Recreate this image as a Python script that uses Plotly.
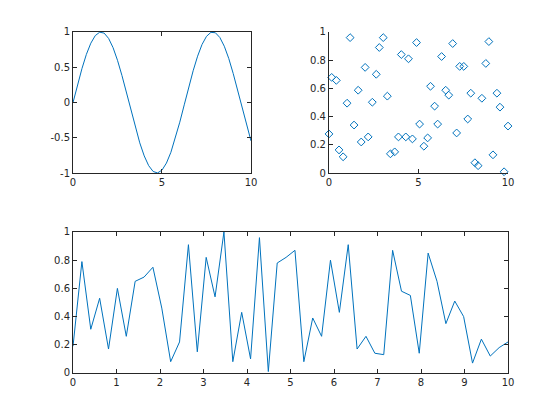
import plotly.graph_objects as go

# --- top-left: sine curve ---
sine_x = [i * 0.25 for i in range(41)]
sine_y = [0.00, 0.247, 0.479, 0.682, 0.841, 0.949, 0.997, 0.984, 0.909, 0.778,
          0.598, 0.382, 0.141, -0.108, -0.351, -0.572, -0.757, -0.895, -0.978, -0.999,
          -0.959, -0.859, -0.706, -0.508, -0.279, -0.033, 0.215, 0.450, 0.657, 0.823,
          0.938, 0.995, 0.989, 0.922, 0.798, 0.625, 0.412, 0.174, -0.075, -0.320, -0.544]
sine_yticks = [-1, -0.5, 0, 0.5, 1]
sine_yticklabels = ["-1", "-0.5", "0", "0.5", "1"]

# --- top-right: scatter ---
scat_x = [0.00, 0.15, 0.41, 0.56, 0.79, 1.01, 1.18, 1.40, 1.63, 1.80,
          2.02, 2.19, 2.42, 2.64, 2.81, 3.03, 3.26, 3.43, 3.67, 3.88,
          4.04, 4.29, 4.44, 4.66, 4.89, 5.06, 5.30, 5.51, 5.67, 5.90,
          6.07, 6.29, 6.52, 6.69, 6.91, 7.13, 7.30, 7.53, 7.75, 7.92,
          8.15, 8.33, 8.54, 8.76, 8.93, 9.16, 9.38, 9.55, 9.78, 10.00]
scat_y = [0.277, 0.678, 0.657, 0.164, 0.115, 0.495, 0.960, 0.340, 0.587, 0.220,
          0.749, 0.256, 0.502, 0.700, 0.890, 0.960, 0.545, 0.136, 0.150, 0.256,
          0.840, 0.256, 0.810, 0.242, 0.925, 0.347, 0.190, 0.249, 0.615, 0.474,
          0.347, 0.826, 0.587, 0.552, 0.918, 0.284, 0.756, 0.756, 0.383, 0.566,
          0.073, 0.052, 0.530, 0.777, 0.932, 0.129, 0.566, 0.467, 0.009, 0.333]

# --- bottom: random line ---
line_x = [i * 10 / 49 for i in range(50)]
line_y = [0.19, 0.79, 0.31, 0.53, 0.17, 0.60, 0.26, 0.65, 0.68, 0.75,
          0.46, 0.08, 0.22, 0.91, 0.15, 0.82, 0.54, 1.00, 0.08, 0.43,
          0.10, 0.96, 0.01, 0.78, 0.82, 0.87, 0.08, 0.39, 0.26, 0.80,
          0.43, 0.91, 0.17, 0.26, 0.14, 0.13, 0.87, 0.58, 0.55, 0.14,
          0.85, 0.65, 0.35, 0.51, 0.40, 0.07, 0.24, 0.12, 0.18, 0.22]

blue = "#0072BD"
axcol = "#262626"

fig = go.Figure()
fig.add_trace(go.Scatter(x=sine_x, y=sine_y, mode="lines",
                         line=dict(color=blue, width=1), xaxis="x", yaxis="y"))
fig.add_trace(go.Scatter(x=scat_x, y=scat_y, mode="markers",
                         marker=dict(symbol="diamond-open", size=6, color=blue,
                                     line=dict(width=1, color=blue)),
                         xaxis="x2", yaxis="y2", cliponaxis=False))
fig.add_trace(go.Scatter(x=line_x, y=line_y, mode="lines",
                         line=dict(color=blue, width=1), xaxis="x3", yaxis="y3"))

def ax(domain, rng, dtick, anchor, mirror, tick0=0):
    return dict(domain=domain, range=rng, dtick=dtick, tick0=tick0, anchor=anchor,
                showline=True, linecolor=axcol, linewidth=1, mirror=mirror,
                ticks="inside", ticklen=4, tickcolor=axcol, tickwidth=1,
                showgrid=False, zeroline=False, automargin=False,
                tickfont=dict(family="DejaVu Sans", size=10, color=axcol))

yax1 = ax([0.6071, 0.9429], [-1, 1], 0.5, "x", "ticks")
yax1.update(tickmode="array", tickvals=sine_yticks, ticktext=sine_yticklabels)

fig.update_layout(
    width=560, height=420, showlegend=False,
    margin=dict(l=0, r=0, t=0, b=0, autoexpand=False),
    paper_bgcolor="white", plot_bgcolor="white",
    xaxis=ax([0.1161, 0.4339], [0, 10], 5, "y", "ticks"),
    yaxis=yax1,
    xaxis2=ax([0.5732, 0.8929], [0, 10], 5, "y2", False),
    yaxis2=ax([0.6071, 0.9429], [0, 1], 0.2, "x2", False),
    xaxis3=ax([0.1161, 0.8929], [0, 10], 1, "y3", "ticks"),
    yaxis3=ax([0.1310, 0.4667], [0, 1], 0.2, "x3", "ticks"),
)

fig.write_html("out.html")
